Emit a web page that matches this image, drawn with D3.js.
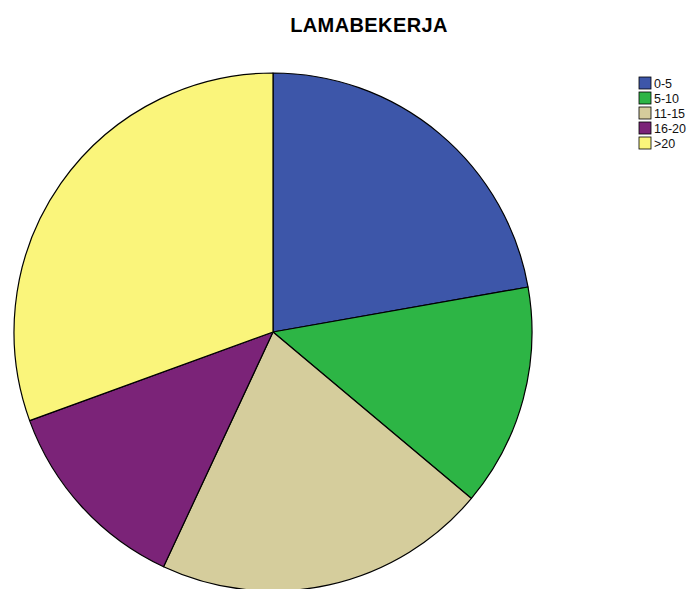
<!DOCTYPE html>
<html>
<head>
<meta charset="utf-8">
<script src="https://cdn.jsdelivr.net/npm/d3@7"></script>
<style>
  body { margin: 0; background: #fff; }
</style>
</head>
<body>
<svg id="chart" width="695" height="589"></svg>
<script>
const categories = ["0-5", "5-10", "11-15", "16-20", ">20"];
const counts = [16, 10, 15, 9, 22];
const colors = ["#3D56A9", "#2DB545", "#D5CD9C", "#7B2378", "#FAF57B"];

const svg = d3.select("#chart");
const cx = 273, cy = 332, radius = 259;

svg.append("text")
  .attr("x", 369)
  .attr("y", 32)
  .attr("text-anchor", "middle")
  .attr("font-family", "Liberation Sans, Arial, sans-serif")
  .attr("font-weight", "bold")
  .attr("font-size", 20)
  .attr("letter-spacing", 0.4)
  .text("LAMABEKERJA");

const pie = d3.pie().sort(null).value(d => d.count);
const arc = d3.arc().innerRadius(0).outerRadius(radius);

const data = categories.map((c, i) => ({ cat: c, count: counts[i], color: colors[i] }));

svg.append("g")
  .attr("transform", `translate(${cx},${cy})`)
  .selectAll("path")
  .data(pie(data))
  .enter()
  .append("path")
  .attr("d", arc)
  .attr("fill", d => d.data.color)
  .attr("stroke", "#000")
  .attr("stroke-width", 1.2)
  .attr("stroke-linejoin", "round");

// legend
const legend = svg.append("g").attr("transform", "translate(639,77)");
const row = legend.selectAll("g")
  .data(data)
  .enter()
  .append("g")
  .attr("transform", (d, i) => `translate(0,${i * 15})`);

row.append("rect")
  .attr("width", 12)
  .attr("height", 12)
  .attr("fill", d => d.color)
  .attr("stroke", "#000")
  .attr("stroke-width", 0.8);

row.append("text")
  .attr("x", 15)
  .attr("y", 11)
  .attr("font-family", "Liberation Sans, Arial, sans-serif")
  .attr("font-size", 12.5)
  .attr("fill", "#111")
  .text(d => d.cat);
</script>
</body>
</html>
